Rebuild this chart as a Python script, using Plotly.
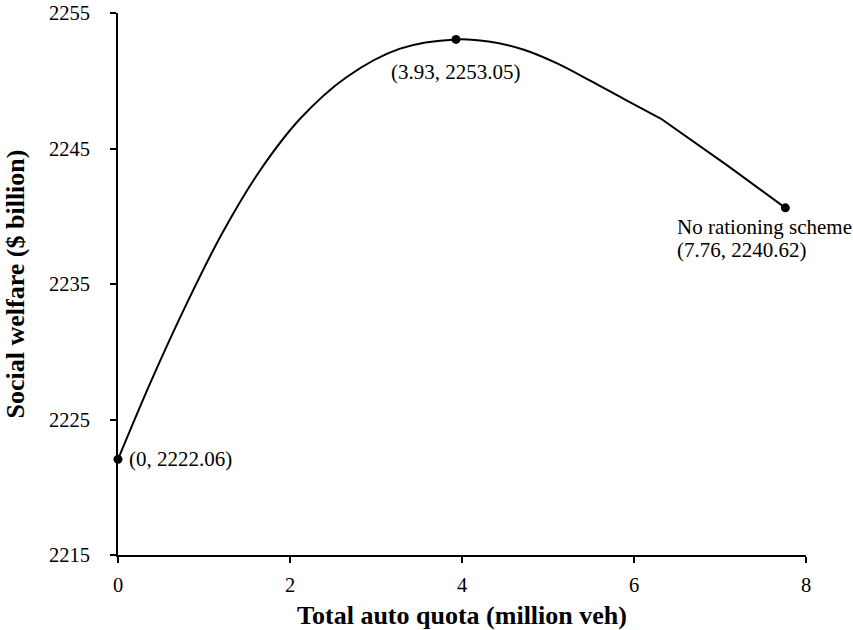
import plotly.graph_objects as go

# Social welfare versus total auto quota
quota = [0, 0.39, 0.80, 1.21, 1.64, 2.12, 2.66, 3.28, 3.93,
         4.33, 4.72, 5.10, 5.49, 5.88, 6.31, 7.08, 7.76]
welfare = [2222.06, 2227.91, 2233.57, 2238.73, 2243.27, 2247.21, 2250.28,
           2252.37, 2253.05, 2252.87, 2252.29, 2251.30, 2250.01, 2248.66,
           2247.21, 2243.77, 2240.62]

# Highlighted points
key_quota = [0, 3.93, 7.76]
key_welfare = [2222.06, 2253.05, 2240.62]

x_ticks = [0, 2, 4, 6, 8]
y_ticks = [2215, 2225, 2235, 2245, 2255]

FONT = "Liberation Serif"

# The curve bends at quota 6.31; beyond it the line runs straight to the end
bend = quota.index(6.31)

fig = go.Figure()
fig.add_trace(go.Scatter(
    x=quota[:bend + 1], y=welfare[:bend + 1], mode="lines",
    line=dict(color="black", width=2, shape="spline", smoothing=1.0),
    hoverinfo="skip", showlegend=False,
))
fig.add_trace(go.Scatter(
    x=quota[bend:], y=welfare[bend:], mode="lines",
    line=dict(color="black", width=2, shape="spline", smoothing=0.3),
    hoverinfo="skip", showlegend=False,
))
fig.add_trace(go.Scatter(
    x=key_quota, y=key_welfare, mode="markers",
    marker=dict(color="black", size=9),
    cliponaxis=False, showlegend=False,
))

def fmt(v):
    return f"{v:g}" if v == int(v) else f"{v:.2f}"

labels = [f"({fmt(a)}, {b:.2f})" for a, b in zip(key_quota, key_welfare)]

ann_font = dict(family=FONT, size=21, color="black")
fig.add_annotation(x=key_quota[0], y=key_welfare[0], text=labels[0],
                   showarrow=False, xanchor="left", yanchor="middle",
                   xshift=9, font=ann_font)
fig.add_annotation(x=key_quota[1], y=key_welfare[1], text=labels[1],
                   showarrow=False, xanchor="center", yanchor="middle",
                   yshift=-33, font=ann_font)
fig.add_annotation(x=key_quota[2], y=key_welfare[2], text="No rationing scheme",
                   showarrow=False, xanchor="left", yanchor="middle",
                   xshift=-110, yshift=-19, font=ann_font)
fig.add_annotation(x=key_quota[2], y=key_welfare[2], text=labels[2],
                   showarrow=False, xanchor="left", yanchor="middle",
                   xshift=-110, yshift=-42, font=ann_font)

axis_common = dict(
    showline=True, linecolor="black", linewidth=2,
    ticks="outside", ticklen=6, tickwidth=2, tickcolor="black",
    showgrid=False, zeroline=False, automargin=False,
    tickfont=dict(family=FONT, size=20.5, color="black"),
)

fig.update_xaxes(
    range=[0, 8], tickvals=x_ticks, ticklabelstandoff=4,
    title=dict(text="<b>Total auto quota (million veh)</b>",
               font=dict(family=FONT, size=26, color="black"), standoff=14),
    **axis_common,
)
fig.update_yaxes(
    range=[2215, 2255], tickvals=y_ticks, ticklabelstandoff=16,
    title=dict(text="<b>Social welfare ($ billion)</b>",
               font=dict(family=FONT, size=26, color="black"), standoff=17),
    **axis_common,
)

fig.update_layout(
    width=853, height=630,
    margin=dict(l=118, r=47, t=13, b=75),
    plot_bgcolor="white", paper_bgcolor="white",
    showlegend=False,
)

fig.write_html("out.html")
